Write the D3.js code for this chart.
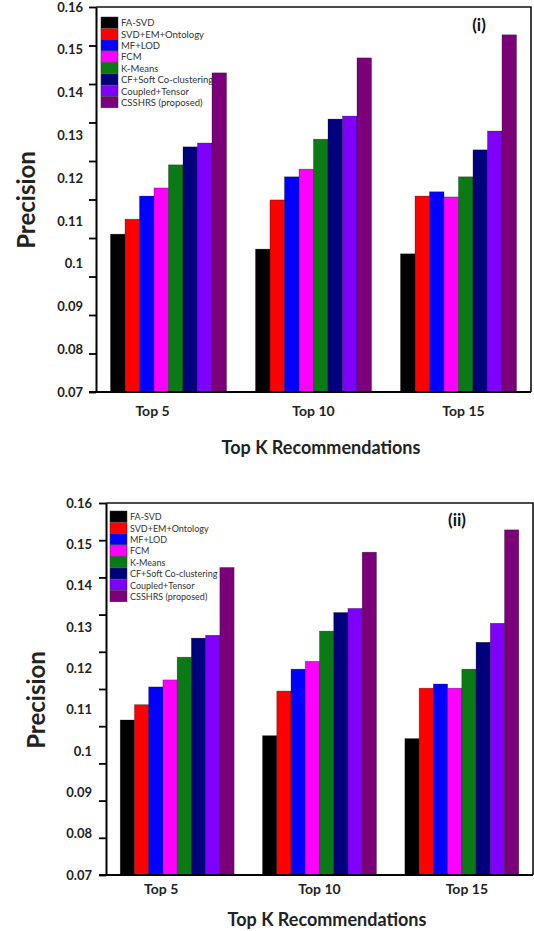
<!DOCTYPE html>
<html>
<head>
<meta charset="utf-8">
<script src="https://cdn.jsdelivr.net/npm/d3@7"></script>
<style>
  body { margin: 0; background: #fff; }
  text { font-family: Lato, "Open Sans", sans-serif; }
</style>
</head>
<body>
<div class="chart"></div>
<script>
// categories on the x axis and the methods compared in each group
var categories = ['Top 5', 'Top 10', 'Top 15'];
var methods = ['FA-SVD', 'SVD+EM+Ontology', 'MF+LOD', 'FCM', 'K-Means',
  'CF+Soft Co-clustering', 'Coupled+Tensor', 'CSSHRS (proposed)'];
var colors = ['#000000', '#ff0000', '#0000ff', '#ff00ff', '#0b7a16',
  '#00007d', '#7f00ff', '#7b0079'];

// y axis labels
var yTickLabels = [0.07, 0.08, 0.09, 0.1, 0.11, 0.12, 0.13, 0.14, 0.15, 0.16];
var minorTickCount = 11;

// precision, one row per category, one value per method
var precisionI = [
  [0.1069, 0.1104, 0.1158, 0.1177, 0.1231, 0.1273, 0.1282, 0.1446],
  [0.1034, 0.1149, 0.1203, 0.1221, 0.1291, 0.1338, 0.1345, 0.1481],
  [0.1023, 0.1158, 0.1168, 0.1156, 0.1203, 0.1266, 0.1310, 0.1535]
];

// precision (ii)
var precisionII = [
  [0.1075, 0.1112, 0.1155, 0.1172, 0.1227, 0.1273, 0.1280, 0.1444],
  [0.1037, 0.1145, 0.1198, 0.1217, 0.1290, 0.1335, 0.1345, 0.1481],
  [0.1030, 0.1152, 0.1162, 0.1152, 0.1198, 0.1263, 0.1309, 0.1535]
];

var width = 534,
    height = 931;

var svg = d3.select('.chart')
  .append('svg')
  .attr('width', width)
  .attr('height', height);

function drawPanel(data, cfg) {
  var g = svg.append('g');

  var x0 = d3.scaleBand()
    .domain(categories)
    .range([cfg.left, cfg.right])
    .paddingInner(0.2)
    .paddingOuter(0.1);

  var x1 = d3.scaleBand()
    .domain(methods)
    .range([0, x0.bandwidth()]);

  var y = d3.scaleLinear()
    .domain([yTickLabels[0], yTickLabels[yTickLabels.length - 1]])
    .range([cfg.bottom, cfg.top]);

  // top and right border of the frame
  g.append('path')
    .attr('d', 'M' + cfg.left + ',' + cfg.top + 'H' + cfg.right + 'V' + cfg.bottom)
    .attr('fill', 'none')
    .attr('stroke', '#111')
    .attr('stroke-width', 1.6);

  //BARS
  var groups = g.selectAll('.group')
    .data(data)
    .enter()
    .append('g')
    .attr('class', 'group')
    .attr('transform', (d, i) => 'translate(' + x0(categories[i]) + ',0)');

  groups.selectAll('rect')
    .data((d) => d.map((v, j) => ({method: methods[j], value: v, color: colors[j]})))
    .enter()
    .append('rect')
    .attr('x', (d) => x1(d.method))
    .attr('y', (d) => y(d.value))
    .attr('width', x1.bandwidth())
    .attr('height', (d) => y.range()[0] - y(d.value))
    .attr('fill', (d) => d.color)
    .attr('stroke', '#000')
    .attr('stroke-opacity', 0.45)
    .attr('stroke-width', 0.6);

  // unlabelled tick marks, evenly spaced over the axis
  var dom = y.domain();
  var minorTicks = d3.range(minorTickCount).map((i) => dom[0] + i * (dom[1] - dom[0]) / (minorTickCount - 1));

  g.append('g')
    .attr('transform', 'translate(' + cfg.left + ',0)')
    .call(d3.axisLeft(y).tickValues(minorTicks).tickSize(7).tickSizeOuter(0).tickFormat(''))
    .call((a) => a.select('.domain').attr('stroke-width', 2))
    .call((a) => a.selectAll('.tick line').attr('stroke-width', 1.8));

  // tick labels
  g.append('g')
    .attr('transform', 'translate(' + cfg.left + ',0)')
    .call(d3.axisLeft(y).tickValues(yTickLabels).tickSize(0).tickPadding(cfg.yPad).tickFormat(d3.format('~g')))
    .call((a) => a.select('.domain').remove())
    .selectAll('text')
    .attr('font-family', 'Lato, sans-serif')
    .attr('font-weight', 'bold')
    .attr('font-size', 13)
    .attr('fill', '#222');

  //X-AXIS
  g.append('g')
    .attr('transform', 'translate(0,' + cfg.bottom + ')')
    .call(d3.axisBottom(x0).tickSize(0).tickSizeOuter(0).tickPadding(cfg.xPad))
    .call((a) => a.select('.domain')
      .attr('d', 'M' + (cfg.left - 7) + ',0H' + cfg.right)
      .attr('stroke-width', 2))
    .selectAll('text')
    .attr('dx', (d, i) => i === 0 ? -16 : i === 2 ? 5 : 0)
    .attr('font-family', 'Lato, sans-serif')
    .attr('font-weight', 'bold')
    .attr('font-size', 14)
    .attr('fill', '#222');

  // axis titles
  g.append('text')
    .attr('transform', 'translate(' + cfg.yTitleX + ',' + cfg.yTitleY + ') rotate(-90)')
    .attr('text-anchor', 'middle')
    .attr('font-weight', 'bold')
    .attr('font-size', 24)
    .attr('fill', '#222')
    .text('Precision');

  g.append('text')
    .attr('x', cfg.xTitleX)
    .attr('y', cfg.xTitleY)
    .attr('text-anchor', 'middle')
    .attr('dominant-baseline', 'central')
    .attr('font-weight', 'bold')
    .attr('font-size', 18)
    .attr('fill', '#222')
    .text('Top K Recommendations');

  // panel tag
  g.append('text')
    .attr('x', cfg.tagX)
    .attr('y', cfg.tagY)
    .attr('text-anchor', 'middle')
    .attr('dominant-baseline', 'central')
    .attr('font-weight', 'bold')
    .attr('font-size', 17)
    .attr('fill', '#111')
    .text(cfg.tag);

  //LEGEND
  var legend = g.append('g')
    .attr('transform', 'translate(' + cfg.legendX + ',' + cfg.legendY + ')');

  var row = legend.selectAll('g')
    .data(methods)
    .enter()
    .append('g')
    .attr('transform', (d, i) => 'translate(0,' + i * 11.4 + ')');

  row.append('rect')
    .attr('width', 17)
    .attr('height', 11)
    .attr('fill', (d, i) => colors[i])
    .attr('stroke', '#333')
    .attr('stroke-width', 0.5);

  row.append('text')
    .attr('x', 20)
    .attr('y', 5.8)
    .attr('dominant-baseline', 'central')
    .attr('font-size', cfg.legendFont)
    .attr('fill', '#333')
    .text((d) => d);
}

drawPanel(precisionI, {
  left: 96, right: 531, top: 7, bottom: 392,
  yPad: 13, xPad: 14,
  yTitleX: 35, yTitleY: 200,
  xTitleX: 321, xTitleY: 447,
  tag: '(i)', tagX: 479, tagY: 24,
  legendX: 101, legendY: 17, legendFont: 9.5
});

drawPanel(precisionII, {
  left: 106, right: 533, top: 503, bottom: 875,
  yPad: 14, xPad: 9,
  yTitleX: 45, yTitleY: 700,
  xTitleX: 327, xTitleY: 919,
  tag: '(ii)', tagX: 457, tagY: 519,
  legendX: 110, legendY: 511, legendFont: 9
});
</script>
</body>
</html>
